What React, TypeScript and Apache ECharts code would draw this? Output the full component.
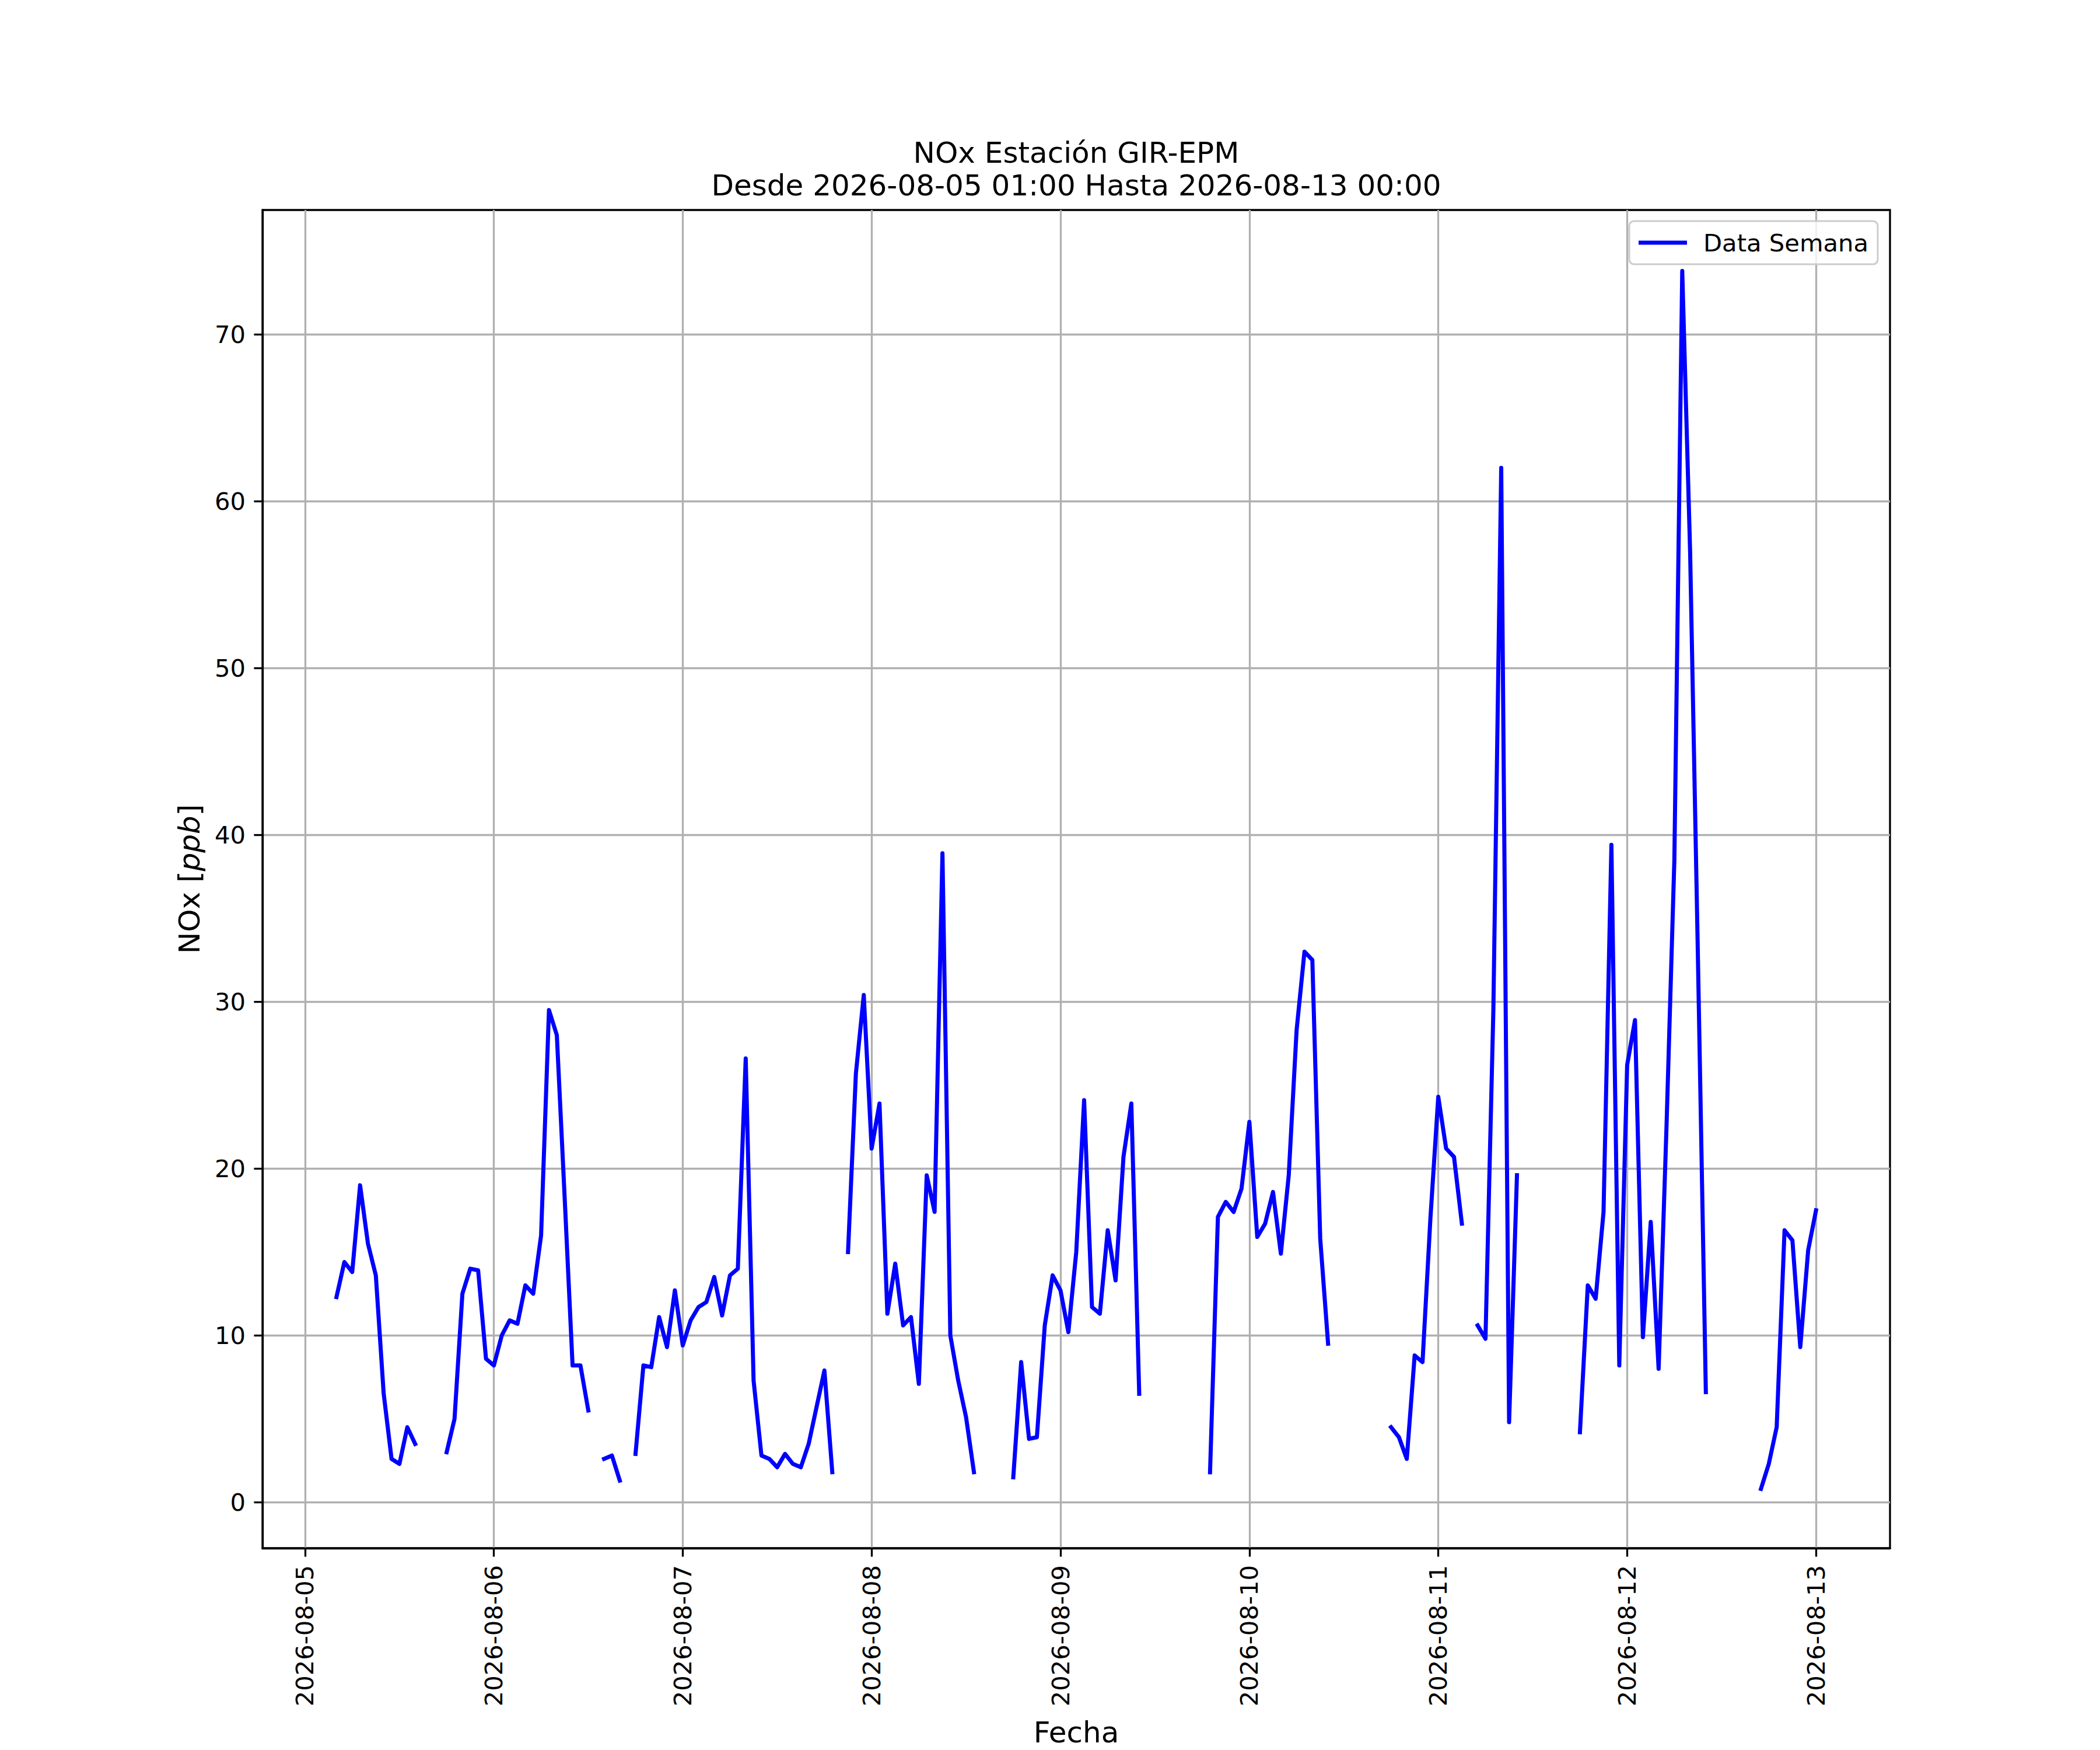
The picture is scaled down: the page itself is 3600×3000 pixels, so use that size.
import React, { useEffect, useRef } from "react";
import * as echarts from "echarts";

// Hourly NOx values (ppb); null = missing hour.
// 2026-08-05 from 01:00 to 23:00
const day05: (number | null)[] = [null, null, null, 12.3, 14.4, 13.8, 19.0, 15.5, 13.6, 6.5, 2.6, 2.3, 4.5, 3.5, null, null, null, 3.0, 5.0, 12.5, 14.0, 13.9, 8.6];
// 2026-08-06 00:00 .. 23:00
const day06: (number | null)[] = [8.2, 10.0, 10.9, 10.7, 13.0, 12.5, 16.0, 29.5, 28.0, 18.2, 8.2, 8.2, 5.5, null, 2.6, 2.8, 1.3, null, 2.9, 8.2, 8.1, 11.1, 9.3, 12.7];
const day07: (number | null)[] = [9.4, 10.9, 11.7, 12.0, 13.5, 11.2, 13.6, 14.0, 26.6, 7.3, 2.8, 2.6, 2.1, 2.9, 2.3, 2.1, 3.5, 5.7, 7.9, 1.8, null, 15.0, 25.7, 30.4];
const day08: (number | null)[] = [21.2, 23.9, 11.3, 14.3, 10.6, 11.1, 7.1, 19.6, 17.4, 38.9, 10.0, 7.3, 5.1, 1.8, null, null, null, null, 1.5, 8.4, 3.8, 3.9, 10.6, 13.6];
const day09: (number | null)[] = [12.7, 10.2, 15.0, 24.1, 11.7, 11.3, 16.3, 13.3, 20.7, 23.9, 6.5, null, null, null, null, null, null, null, null, 1.8, 17.1, 18.0, 17.4, 18.8];
const day10: (number | null)[] = [22.8, 15.9, 16.7, 18.6, 14.9, 19.6, 28.3, 33.0, 32.5, 15.8, 9.5, null, null, null, null, null, null, null, 4.5, 3.9, 2.6, 8.8, 8.4, 17.0];
const day11: (number | null)[] = [24.3, 21.2, 20.7, 16.7, null, 10.6, 9.8, 29.5, 62.0, 4.8, 19.6, null, null, null, null, null, null, null, 4.2, 13.0, 12.2, 17.4, 39.4, 8.2];
const day12: (number | null)[] = [26.2, 28.9, 9.9, 16.8, 8.0, 22.5, 38.5, 73.8, 57.0, 32.5, 6.6, null, null, null, null, null, null, 0.8, 2.3, 4.5, 16.3, 15.7, 9.3, 15.1];
// 2026-08-13 00:00
const day13: (number | null)[] = [17.5];

const seriesName = "Data Semana";
const titleLines = ["NOx Estación GIR-EPM", "Desde 2026-08-05 01:00 Hasta 2026-08-13 00:00"];
const xName = "Fecha";

const startTime = Date.UTC(2026, 7, 5, 1, 0);
const HOUR = 3600 * 1000;
const xMin = Date.UTC(2026, 7, 4, 18, 36);
const xMax = Date.UTC(2026, 7, 13, 9, 24);
const yMin = -2.75;
const yMax = 77.45;
const dayTicks: number[] = [5, 6, 7, 8, 9, 10, 11, 12, 13].map((d) => Date.UTC(2026, 7, d));
const yTicks: number[] = [0, 10, 20, 30, 40, 50, 60, 70];

const FONT = "DejaVu Sans";

function pad2(n: number) {
  return n < 10 ? "0" + n : String(n);
}

export default function App() {
  const ref = useRef<HTMLDivElement | null>(null);

  useEffect(() => {
    document.body.style.margin = "0";
    if (!ref.current) return;
    const chart = echarts.init(ref.current, null, { renderer: "svg" });

    const values = [...day05, ...day06, ...day07, ...day08, ...day09, ...day10, ...day11, ...day12, ...day13];
    const data = values.map((v, i) => [startTime + i * HOUR, v === null ? "-" : v]);

    const option: any = {
      animation: false,
      backgroundColor: "#ffffff",
      grid: {
        left: 450,
        right: 360,
        top: 360,
        bottom: 330,
        show: true,
        borderColor: "#000000",
        borderWidth: 3.3,
        backgroundColor: "transparent",
        containLabel: false,
      },
      graphic: [
        {
          type: "text",
          x: 1845,
          y: 262,
          z: 10,
          style: {
            text: titleLines[0],
            fontSize: 50,
            fontFamily: FONT,
            fill: "#000000",
            align: "center",
            verticalAlign: "middle",
          },
        },
        {
          type: "text",
          x: 1845,
          y: 318,
          z: 10,
          style: {
            text: titleLines[1],
            fontSize: 50,
            fontFamily: FONT,
            fill: "#000000",
            align: "center",
            verticalAlign: "middle",
          },
        },
      ],
      legend: {
        show: true,
        right: 381,
        top: 379,
        orient: "horizontal",
        padding: [16, 16, 16, 16],
        itemWidth: 83,
        itemHeight: 7,
        icon: "rect",
        borderColor: "#cccccc",
        borderWidth: 3,
        borderRadius: 8,
        backgroundColor: "rgba(255,255,255,0.8)",
        textStyle: { fontSize: 41.7, color: "#000000", fontFamily: FONT, padding: [0, 0, 0, 23] },
        data: [{ name: seriesName, icon: "rect" }],
      },
      xAxis: {
        type: "value",
        min: xMin,
        max: xMax,
        name: xName,
        nameLocation: "middle",
        nameGap: 291,
        nameTextStyle: { fontSize: 50, color: "#000000", fontFamily: FONT, verticalAlign: "top" },
        axisLine: { show: true, onZero: false, lineStyle: { color: "#000000", width: 3.3 } },
        axisTick: { show: true, length: 14.6, customValues: dayTicks, lineStyle: { color: "#000000", width: 3.3 } },
        axisLabel: {
          customValues: dayTicks,
          rotate: 90,
          margin: 29,
          fontSize: 41.7,
          color: "#000000",
          fontFamily: FONT,
          formatter: (v: number) => {
            const d = new Date(v);
            return d.getUTCFullYear() + "-" + pad2(d.getUTCMonth() + 1) + "-" + pad2(d.getUTCDate());
          },
        },
        splitLine: { show: true, lineStyle: { color: "#b0b0b0", width: 3.3 } },
      },
      yAxis: {
        type: "value",
        min: yMin,
        max: yMax,
        name: "NOx [{i|ppb}]",
        nameLocation: "middle",
        nameGap: 100,
        nameRotate: 90,
        nameTextStyle: {
          fontSize: 50,
          color: "#000000",
          fontFamily: FONT,
          rich: { i: { fontSize: 50, fontStyle: "italic", fontFamily: FONT, color: "#000000" } },
        },
        axisLine: { show: true, lineStyle: { color: "#000000", width: 3.3 } },
        axisTick: { show: true, length: 14.6, customValues: yTicks, lineStyle: { color: "#000000", width: 3.3 } },
        axisLabel: {
          customValues: yTicks,
          margin: 29,
          fontSize: 41.7,
          color: "#000000",
          fontFamily: FONT,
        },
        splitLine: { show: true, lineStyle: { color: "#b0b0b0", width: 3.3 } },
      },
      series: [
        {
          type: "line",
          name: seriesName,
          data,
          symbol: "none",
          showSymbol: false,
          connectNulls: false,
          color: "#0000ff",
          lineStyle: { color: "#0000ff", width: 7, join: "round", cap: "square" },
          itemStyle: { color: "#0000ff" },
        },
      ],
    };

    chart.setOption(option);
    return () => {
      chart.dispose();
    };
  }, []);

  return <div ref={ref} style={{ width: 3600, height: 3000 }} />;
}
